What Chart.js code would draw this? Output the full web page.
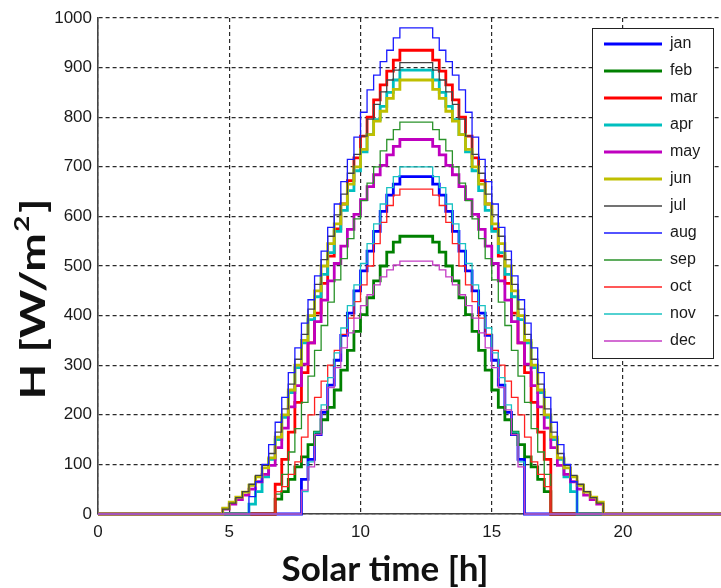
<!DOCTYPE html>
<html lang="en">
<head>
<meta charset="UTF-8">
<title>Monthly irradiance profiles</title>
<script src="https://cdn.jsdelivr.net/npm/chart.js@4.4.1/dist/chart.umd.min.js"></script>
<style>
  html, body { margin: 0; padding: 0; background: #fff; overflow: hidden; }
  canvas { display: block; }
</style>
</head>
<body>
<canvas id="irradiance" width="730" height="588"></canvas>
<script>
  // quarter-hour irradiance [W/m2], from the first sunlit interval to the last
  const months = ['jan', 'feb', 'mar', 'apr', 'may', 'jun', 'jul', 'aug', 'sep', 'oct', 'nov', 'dec'];
  const sunrise = [7.75, 6.75, 6.75, 5.75, 4.75, 4.75, 4.75, 5.75, 6.75, 6.75, 7.75, 7.75];

  const jan = [70, 110, 160, 205, 260, 310, 360, 405, 450, 490, 530, 570, 610, 643, 665,
    680, 680, 680, 680, 680,
    665, 643, 610, 570, 530, 490, 450, 405, 360, 310, 260, 205, 160, 110];
  const feb = [30, 45, 70, 95, 115, 140, 165, 190, 215, 250, 290, 330, 368, 402, 436, 470, 500, 528, 548,
    560, 560, 560, 560, 560,
    548, 528, 500, 470, 436, 402, 368, 330, 290, 250, 215, 190, 165, 140, 115, 95, 70, 45];
  const mar = [60, 110, 165, 225, 285, 345, 405, 465, 520, 575, 625, 672, 718, 762, 800, 835, 865, 893, 915,
    935, 935, 935, 935, 935,
    915, 893, 865, 835, 800, 762, 718, 672, 625, 575, 520, 465, 405, 345, 285, 225, 165, 110];
  const apr = [20, 45, 75, 110, 150, 195, 245, 295, 345, 392, 438, 483, 527, 570, 612, 652, 692, 730, 765, 795, 822, 850, 875,
    895, 895, 895, 895, 895,
    875, 850, 822, 795, 765, 730, 692, 652, 612, 570, 527, 483, 438, 392, 345, 295, 245, 195, 150, 110, 75, 45];
  const may = [10, 20, 29, 38, 50, 65, 80, 98, 134, 173, 216, 259, 302, 345, 388, 431, 470, 505, 540, 574, 604, 634, 660, 684, 703, 724, 741,
    755, 755, 755, 755, 755,
    741, 724, 703, 684, 660, 634, 604, 574, 540, 505, 470, 431, 388, 345, 302, 259, 216, 173, 134, 98, 80, 65, 50, 38, 29, 20];
  const jun = [12, 24, 34, 44, 58, 75, 93, 113, 155, 200, 250, 300, 350, 400, 450, 500, 545, 585, 625, 665, 700, 735, 765, 792, 812, 838, 856,
    875, 875, 875, 875, 875,
    856, 838, 812, 792, 765, 735, 700, 665, 625, 585, 545, 500, 450, 400, 350, 300, 250, 200, 155, 113, 93, 75, 58, 44, 34, 24];
  const jul = [10, 22, 33, 45, 60, 78, 98, 122, 165, 212, 262, 312, 362, 413, 463, 513, 560, 603, 645, 687, 725, 762, 796, 826, 851, 875, 895,
    910, 910, 910, 910, 910,
    895, 875, 851, 826, 796, 762, 725, 687, 645, 603, 560, 513, 463, 413, 362, 312, 262, 212, 165, 122, 98, 78, 60, 45, 33, 22];
  const aug = [35, 65, 100, 140, 185, 235, 285, 335, 385, 432, 480, 530, 578, 625, 670, 715, 760, 810, 855, 885, 912, 935, 960,
    980, 980, 980, 980, 980,
    960, 935, 912, 885, 855, 810, 760, 715, 670, 625, 578, 530, 480, 432, 385, 335, 285, 235, 185, 140, 100, 65];
  const sep = [40, 80, 125, 172, 225, 278, 330, 380, 427, 472, 515, 555, 595, 632, 667, 700, 732, 755, 775,
    790, 790, 790, 790, 790,
    775, 755, 732, 700, 667, 632, 595, 555, 515, 472, 427, 380, 330, 278, 225, 172, 125, 80];
  const oct = [45, 55, 80, 105, 155, 200, 235, 268, 300, 330, 362, 395, 428, 462, 500, 545, 588, 622, 643,
    655, 655, 655, 655, 655,
    643, 622, 588, 545, 500, 462, 428, 395, 362, 330, 300, 268, 235, 200, 155, 105, 80, 55];
  const nov = [45, 105, 165, 220, 275, 325, 375, 420, 462, 505, 545, 585, 625, 658, 680,
    700, 700, 700, 700, 700,
    680, 658, 625, 585, 545, 505, 462, 420, 375, 325, 275, 220, 165, 105];
  const dec = [48, 95, 160, 210, 255, 295, 335, 365, 395, 420, 442, 462, 478, 492, 502,
    510, 510, 510, 510, 510,
    502, 492, 478, 462, 442, 420, 395, 365, 335, 295, 255, 210, 160, 95];

  const dayValues = [jan, feb, mar, apr, may, jun, jul, aug, sep, oct, nov, dec];
  const colors = ['#0000ff', '#008000', '#ff0000', '#00bfbf', '#bf00bf', '#bfbf00',
                  '#444444', '#1a1aff', '#2a922a', '#ff2020', '#1ac2c2', '#c43cc4'];
  const widths = [2.8, 2.8, 2.8, 2.8, 2.8, 2.8, 1.3, 1.3, 1.3, 1.3, 1.3, 1.3];
  const xTicks = [0, 5, 10, 15, 20];

  const STEP = 0.25; // h

  // whole day on a quarter-hour grid, zero outside the sunlit intervals
  function daySeries(start, values) {
    const pts = [];
    for (let k = 0; k <= 24 / STEP; k++) {
      const t = k * STEP;
      const i = Math.round((t - start) / STEP);
      pts.push({ x: t, y: (i >= 0 && i < values.length) ? values[i] : 0 });
    }
    return pts;
  }

  const datasets = months.map((m, i) => ({
    label: m,
    data: daySeries(sunrise[i], dayValues[i]),
    borderColor: colors[i],
    borderWidth: widths[i],
    stepped: true,
    pointRadius: 0,
    fill: false,
    clip: 3,
    order: months.length - i   // dec ends up on top
  }));

  const TICK_FONT = { family: '"Liberation Sans", Arial, sans-serif', size: 17 };

  const frameText = {
    id: 'frameText',
    afterDraw(chart) {
      const { ctx, chartArea } = chart;
      ctx.save();
      ctx.fillStyle = '#111';

      // x axis title
      ctx.font = 'bold 35px Lato';
      ctx.textAlign = 'center';
      ctx.textBaseline = 'alphabetic';
      ctx.fillText('Solar time [h]', chartArea.left + 287, 581);

      // y axis title with superscript, stretched along the axis
      const big = 'bold 35px Lato', small = 'bold 21px Lato';
      ctx.font = big;
      const wMain = ctx.measureText('H [W/m').width;
      const wTail = ctx.measureText(']').width;
      ctx.font = small;
      const wSup = ctx.measureText('2').width;
      ctx.translate(33, 299);
      ctx.rotate(-Math.PI / 2);
      ctx.scale(1.32, 1);
      ctx.textAlign = 'left';
      let x = -(wMain + wSup + wTail + 3) / 2;
      ctx.font = big;
      ctx.fillText('H [W/m', x, 12);
      x += wMain + 1;
      ctx.font = small;
      ctx.fillText('2', x, -4);
      x += wSup + 2;
      ctx.font = big;
      ctx.fillText(']', x, 12);
      ctx.restore();

      // legend box in the upper right corner
      const x0 = 592, y0 = 28, w = 121, h = 330;
      ctx.save();
      ctx.fillStyle = '#fff';
      ctx.fillRect(x0, y0, w, h);
      ctx.strokeStyle = '#222';
      ctx.lineWidth = 1;
      ctx.strokeRect(x0 + 0.5, y0 + 0.5, w, h);
      ctx.font = '16px "Liberation Sans", Arial, sans-serif';
      ctx.textBaseline = 'middle';
      ctx.textAlign = 'left';
      chart.data.datasets.forEach((ds, i) => {
        const y = y0 + 16 + i * 27;
        ctx.strokeStyle = ds.borderColor;
        ctx.lineWidth = ds.borderWidth;
        ctx.beginPath();
        ctx.moveTo(x0 + 12, y);
        ctx.lineTo(x0 + 70, y);
        ctx.stroke();
        ctx.fillStyle = '#1a1a1a';
        ctx.fillText(ds.label, x0 + 78, y);
      });
      ctx.restore();
    }
  };

  new Chart(document.getElementById('irradiance'), {
    type: 'line',
    data: { datasets },
    plugins: [frameText],
    options: {
      responsive: false,
      animation: false,
      layout: { padding: { top: 18, right: 2, left: 0, bottom: 0 } },
      plugins: { legend: { display: false }, tooltip: { enabled: false } },
      scales: {
        x: {
          type: 'linear',
          min: 0,
          max: 24,
          afterFit(scale) { scale.height = 74; },
          afterBuildTicks(scale) { scale.ticks = xTicks.map(v => ({ value: v })); },
          ticks: { font: TICK_FONT, color: '#1a1a1a', padding: 8, maxRotation: 0,
                   callback: v => String(v) },
          grid: { color: '#2a2a2a', lineWidth: 1.2, drawTicks: false },
          border: { display: true, color: '#444', width: 1.6, dash: [4, 3] }
        },
        y: {
          min: 0,
          max: 1000,
          afterFit(scale) { scale.width = 98; },
          ticks: { stepSize: 100, font: TICK_FONT, color: '#1a1a1a', padding: 6,
                   callback: v => String(v) },
          grid: { color: '#2a2a2a', lineWidth: 1.2, drawTicks: false },
          border: { display: true, color: '#444', width: 1.6, dash: [4, 3] }
        }
      }
    }
  });
</script>
</body>
</html>
